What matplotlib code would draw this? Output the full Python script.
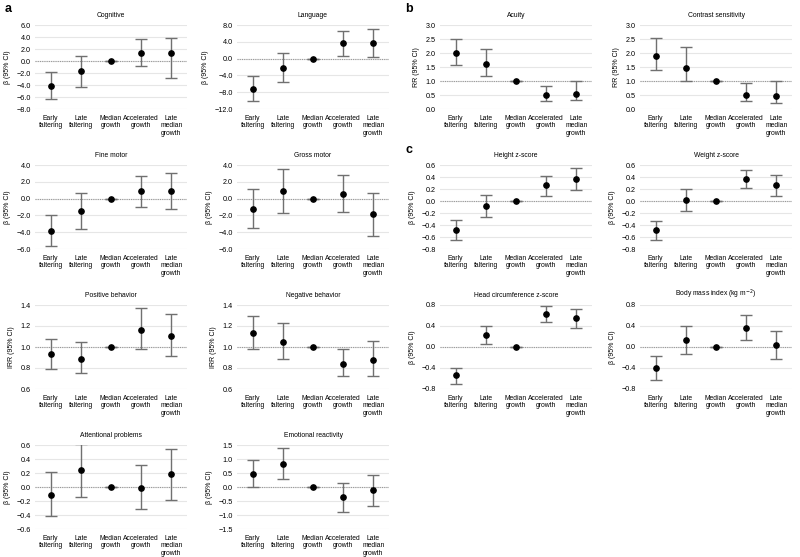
import matplotlib
matplotlib.use('Agg')
import matplotlib.pyplot as plt
from matplotlib.ticker import FuncFormatter

plt.rcParams['font.family'] = ['Liberation Sans', 'DejaVu Sans']
plt.rcParams['axes.unicode_minus'] = True

groups = ['Early\nfaltering', 'Late\nfaltering', 'Median\ngrowth',
          'Accelerated\ngrowth', 'Late\nmedian\ngrowth']

# estimate, lower CI, upper CI per panel
cognitive = ([-4.2, -1.7, 0, 1.4, 1.4], [-6.4, -4.4, 0, -0.8, -2.8], [-1.9, 0.8, 0, 3.6, 3.9])
language = ([-7.2, -2.2, 0, 3.6, 3.6], [-10.2, -5.5, 0, 0.7, 0.3], [-4.1, 1.3, 0, 6.6, 7.0])
acuity = ([2.0, 1.6, 1.0, 0.5, 0.55], [1.58, 1.18, 1.0, 0.3, 0.32], [2.5, 2.14, 1.0, 0.83, 0.99])
contrast = ([1.9, 1.47, 1.0, 0.5, 0.45], [1.41, 1.0, 1.0, 0.29, 0.21], [2.54, 2.2, 1.0, 0.92, 1.0])
fine_motor = ([-3.8, -1.5, 0, 0.85, 0.95], [-5.7, -3.6, 0, -1.0, -1.2], [-1.9, 0.65, 0, 2.7, 3.1])
gross_motor = ([-1.2, 0.85, 0, 0.55, -1.85], [-3.5, -1.7, 0, -1.65, -4.4], [1.1, 3.5, 0, 2.8, 0.7])
height_z = ([-0.48, -0.09, 0, 0.26, 0.37], [-0.65, -0.27, 0, 0.09, 0.18], [-0.32, 0.10, 0, 0.42, 0.55])
weight_z = ([-0.49, 0.02, 0, 0.36, 0.26], [-0.65, -0.16, 0, 0.21, 0.08], [-0.33, 0.20, 0, 0.52, 0.44])
positive = ([0.93, 0.89, 1.0, 1.16, 1.10], [0.79, 0.75, 1.0, 0.98, 0.91], [1.08, 1.05, 1.0, 1.37, 1.31])
negative = ([1.13, 1.05, 1.0, 0.84, 0.88], [0.98, 0.89, 1.0, 0.72, 0.72], [1.30, 1.23, 1.0, 0.98, 1.06])
head_z = ([-0.54, 0.23, 0, 0.63, 0.55], [-0.70, 0.05, 0, 0.48, 0.37], [-0.40, 0.40, 0, 0.78, 0.72])
bmi = ([-0.40, 0.13, 0, 0.36, 0.03], [-0.63, -0.13, 0, 0.13, -0.23], [-0.17, 0.40, 0, 0.60, 0.30])
attention = ([-0.11, 0.24, 0, -0.01, 0.19], [-0.42, -0.14, 0, -0.31, -0.18], [0.21, 0.61, 0, 0.31, 0.55])
emotional = ([0.48, 0.83, 0, -0.37, -0.12], [0.0, 0.27, 0, -0.88, -0.68], [0.97, 1.38, 0, 0.14, 0.44])

beta = '\u03b2 (95% CI)'
panels = [
    # title, data, ylabel, ref, ymin, ymax, step, col, row
    ('Cognitive', cognitive, beta, 0, -8, 6, 2, 0, 0),
    ('Language', language, beta, 0, -12, 8, 4, 1, 0),
    ('Acuity', acuity, 'RR (95% CI)', 1, 0, 3, 0.5, 2, 0),
    ('Contrast sensitivity', contrast, 'RR (95% CI)', 1, 0, 3, 0.5, 3, 0),
    ('Fine motor', fine_motor, beta, 0, -6, 4, 2, 0, 1),
    ('Gross motor', gross_motor, beta, 0, -6, 4, 2, 1, 1),
    ('Height z-score', height_z, beta, 0, -0.8, 0.6, 0.2, 2, 1),
    ('Weight z-score', weight_z, beta, 0, -0.8, 0.6, 0.2, 3, 1),
    ('Positive behavior', positive, 'IRR (95% CI)', 1, 0.6, 1.4, 0.2, 0, 2),
    ('Negative behavior', negative, 'IRR (95% CI)', 1, 0.6, 1.4, 0.2, 1, 2),
    ('Head circumference z-score', head_z, beta, 0, -0.8, 0.8, 0.4, 2, 2),
    ('Body mass index (kg m$^{-2}$)', bmi, beta, 0, -0.8, 0.8, 0.4, 3, 2),
    ('Attentional problems', attention, beta, 0, -0.6, 0.6, 0.2, 0, 3),
    ('Emotional reactivity', emotional, beta, 0, -1.5, 1.5, 0.5, 1, 3),
]

W, H = 800, 557
fig = plt.figure(figsize=(W / 100, H / 100), dpi=100)
col_left = [35, 237, 440, 640]
row_top = [25, 165, 305, 445]
ax_w, ax_h = 152, 84

fmt = FuncFormatter(lambda v, p: ('%.1f' % v).replace('-', '\u2212'))

for title, (est, lo, hi), ylab, ref, ymin, ymax, step, c, r in panels:
    left = col_left[c] / W
    bottom = 1 - (row_top[r] + ax_h) / H
    ax = fig.add_axes([left, bottom, ax_w / W, ax_h / H])
    xs = range(len(groups))
    n = int(round((ymax - ymin) / step))
    ticks = [ymin + i * step for i in range(n + 1)]
    ax.set_yticks(ticks)
    ax.set_ylim(ymin, ymax)
    ax.yaxis.set_major_formatter(fmt)
    ax.grid(axis='y', color='#e6e6e6', lw=0.8)
    ax.set_axisbelow(True)
    ax.axhline(ref, color='#999999', lw=0.8, ls=(0, (1, 1)), zorder=1)
    yerr = [[e - l for e, l in zip(est, lo)], [h - e for e, h in zip(est, hi)]]
    _, caps, bars = ax.errorbar(xs, est, yerr=yerr, fmt='o', color='black', ms=3.8,
                                ecolor='#707070', elinewidth=1.0, capsize=4, capthick=1.0,
                                zorder=3)
    for cp in caps:
        cp.set_color('black')
    ax.set_xlim(-0.52, 4.52)
    ax.set_xticks(list(xs))
    ax.set_xticklabels(groups, fontsize=4.9, linespacing=1.15)
    ax.tick_params(axis='y', labelsize=5.2, length=0, pad=3)
    ax.tick_params(axis='x', length=0, pad=4)
    for s in ax.spines.values():
        s.set_visible(False)
    ax.set_title(title, fontsize=4.9, pad=6)
    ax.set_ylabel(ylab, fontsize=5.0, labelpad=4)

fig.text(5 / W, 1 - 12 / H, 'a', fontsize=9, fontweight='bold')
fig.text(405 / W, 1 - 12 / H, 'b', fontsize=9, fontweight='bold')
fig.text(405 / W, 1 - 153 / H, 'c', fontsize=9, fontweight='bold')

fig.savefig('out.png', dpi=100)
